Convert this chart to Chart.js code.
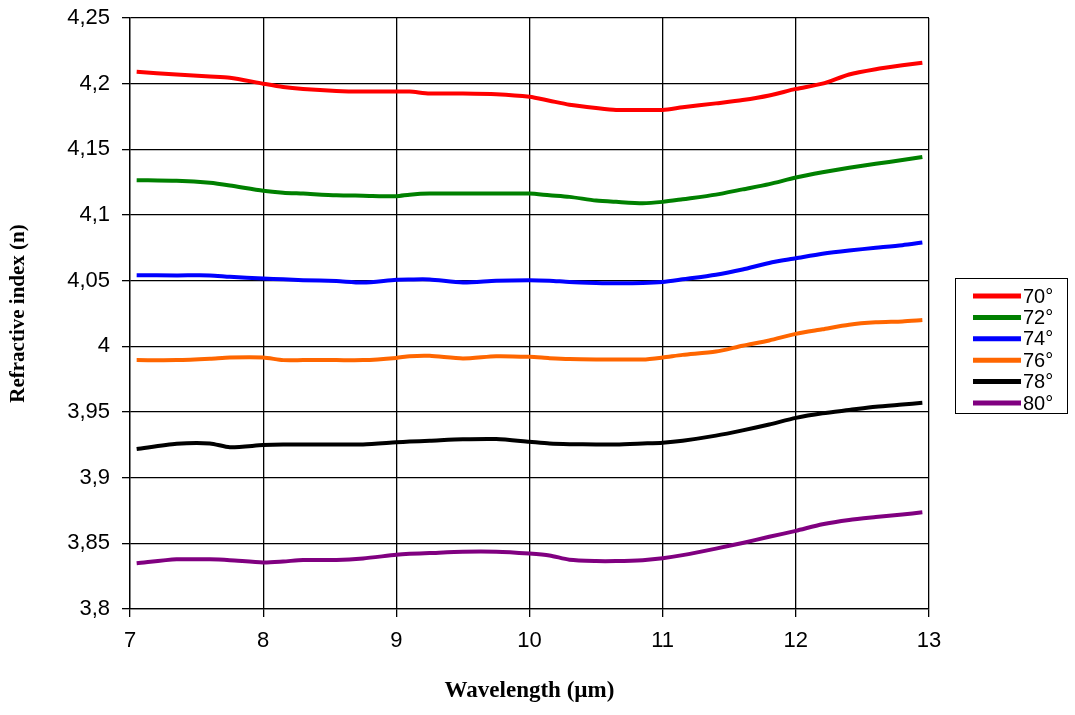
<!DOCTYPE html>
<html>
<head>
<meta charset="utf-8">
<script src="https://cdn.jsdelivr.net/npm/chart.js@4.4.0/dist/chart.umd.min.js"></script>
<style>
  body { margin: 0; background: #fff; }
  #wrap { width: 1075px; height: 715px; }
</style>
</head>
<body>
<div id="wrap"><canvas id="chart" width="1075" height="715"></canvas></div>
<script>
const wavelength = [7.05, 7.35, 7.6, 7.75, 8.0, 8.15, 8.3, 8.55, 8.75, 9.0, 9.1, 9.25, 9.5, 9.75, 10.0, 10.15,
    10.3, 10.5, 10.65, 10.85, 11.0, 11.15, 11.4, 11.6, 11.8, 12.0, 12.2, 12.4, 12.6, 12.8, 12.95];

const n70 = [4.209, 4.207, 4.2055, 4.2045, 4.200, 4.1975, 4.196, 4.1945, 4.194, 4.194, 4.194, 4.1925, 4.1925, 4.192, 4.190, 4.187,
    4.184, 4.1815, 4.180, 4.180, 4.180, 4.182, 4.185, 4.1875, 4.191, 4.196, 4.200, 4.207, 4.211, 4.214, 4.216];
const n72 = [4.1265, 4.126, 4.1245, 4.1225, 4.1185, 4.117, 4.1163, 4.115, 4.1147, 4.1143, 4.1155, 4.1163, 4.1163, 4.1163, 4.1163, 4.115,
    4.1138, 4.111, 4.110, 4.109, 4.110, 4.112, 4.1155, 4.1195, 4.1235, 4.1285, 4.1325, 4.136, 4.139, 4.1418, 4.1442];
const n74 = [4.0542, 4.054, 4.054, 4.0529, 4.0517, 4.051, 4.0504, 4.0497, 4.0486, 4.0507, 4.0509, 4.0509, 4.0486, 4.050, 4.0504, 4.050,
    4.049, 4.0483, 4.048, 4.0482, 4.049, 4.051, 4.0545, 4.0585, 4.0635, 4.067, 4.0705, 4.073, 4.075, 4.077, 4.079];
const n76 = [3.9895, 3.9895, 3.9905, 3.9915, 3.9915, 3.9895, 3.9895, 3.9895, 3.9895, 3.9912, 3.9925, 3.9928, 3.9908, 3.9925, 3.992, 3.991,
    3.9903, 3.990, 3.990, 3.990, 3.9915, 3.9935, 3.996, 4.0005, 4.0045, 4.0095, 4.013, 4.0165, 4.0183, 4.019, 4.020];
const n78 = [3.9218, 3.9258, 3.9261, 3.9232, 3.9248, 3.9253, 3.9253, 3.9253, 3.9253, 3.9269, 3.9275, 3.9281, 3.9292, 3.9294, 3.9273, 3.926,
    3.9255, 3.9253, 3.9253, 3.926, 3.9266, 3.9281, 3.932, 3.936, 3.9405, 3.9455, 3.949, 3.9515, 3.954, 3.9557, 3.957];
const n80 = [3.8348, 3.8378, 3.8378, 3.8372, 3.8355, 3.8362, 3.8373, 3.8373, 3.8385, 3.8413, 3.842, 3.8426, 3.8436, 3.8436, 3.8422, 3.8408,
    3.8375, 3.8365, 3.8365, 3.8372, 3.8386, 3.841, 3.846, 3.8503, 3.855, 3.8595, 3.8645, 3.8678, 3.870, 3.872, 3.8736];

const angles = ['70°', '72°', '74°', '76°', '78°', '80°'];
const seriesValues = [n70, n72, n74, n76, n78, n80];
const colors = ['#ff0000', '#008000', '#0000ff', '#ff6600', '#000000', '#800080'];

const datasets = angles.map((label, i) => ({
    label: label,
    data: wavelength.map((x, j) => ({ x: x, y: seriesValues[i][j] })),
    borderColor: colors[i],
    backgroundColor: colors[i],
    borderWidth: 4,
    pointRadius: 0,
    tension: 0.25,
    fill: false
}));

// Excel-like boxed legend on the right
const boxLegend = {
    id: 'boxLegend',
    afterDraw(chart) {
        const ctx = chart.ctx;
        const x0 = 955, y0 = 278, w = 112, h = 135;
        ctx.save();
        ctx.strokeStyle = '#000';
        ctx.lineWidth = 1;
        ctx.strokeRect(x0 + 0.5, y0 + 0.5, w, h);
        ctx.font = '20px "Liberation Sans", Arial, sans-serif';
        ctx.textBaseline = 'middle';
        ctx.fillStyle = '#000';
        chart.data.datasets.forEach((ds, i) => {
            const y = 296 + i * 21.4;
            ctx.strokeStyle = ds.borderColor;
            ctx.lineWidth = 5;
            ctx.beginPath();
            ctx.moveTo(973, y);
            ctx.lineTo(1021, y);
            ctx.stroke();
            ctx.fillText(ds.label, 1023, y + 1);
        });
        ctx.restore();
    }
};

new Chart(document.getElementById('chart'), {
    type: 'line',
    data: { datasets: datasets },
    options: {
        responsive: false,
        animation: false,
        layout: { padding: { left: 0, right: 146, top: 18, bottom: 0 } },
        plugins: {
            legend: { display: false },
            tooltip: { enabled: false }
        },
        scales: {
            x: {
                type: 'linear',
                min: 7,
                max: 13,
                afterFit: (scale) => {
                    scale.height = 106;
                    scale.paddingLeft = 0;
                    scale.paddingRight = 0;
                },
                ticks: {
                    stepSize: 1,
                    color: '#000',
                    padding: 11,
                    font: { family: '"Liberation Sans", Arial, sans-serif', size: 22 }
                },
                grid: { color: '#000', lineWidth: 1.3, tickLength: 8, tickColor: '#000' },
                border: { color: '#000', width: 1.3 },
                title: {
                    display: true,
                    text: 'Wavelength (µm)',
                    color: '#000',
                    padding: { top: 0, bottom: 10 },
                    font: { family: '"Liberation Serif", "Times New Roman", serif', size: 23, weight: 'bold' }
                }
            },
            y: {
                min: 3.8,
                max: 4.25,
                afterFit: (scale) => {
                    scale.width = 130;
                    scale.paddingTop = 0;
                    scale.paddingBottom = 0;
                },
                ticks: {
                    stepSize: 0.05,
                    color: '#000',
                    padding: 12,
                    font: { family: '"Liberation Sans", Arial, sans-serif', size: 22 },
                    callback: (v) => String(Math.round(v * 100) / 100).replace('.', ',')
                },
                grid: { color: '#000', lineWidth: 1.3, tickLength: 8, tickColor: '#000' },
                border: { color: '#000', width: 1.3 },
                title: {
                    display: true,
                    text: 'Refractive index (n)',
                    color: '#000',
                    padding: { top: 6, bottom: 0 },
                    font: { family: '"Liberation Serif", "Times New Roman", serif', size: 21, weight: 'bold' }
                }
            }
        }
    },
    plugins: [boxLegend]
});
</script>
</body>
</html>
